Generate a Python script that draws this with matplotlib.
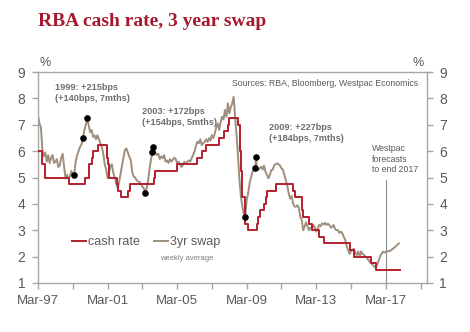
import pandas as pd
import matplotlib.pyplot as plt
import matplotlib.dates as mdates

# RBA cash rate changes (step series)
cash_dates = ["1997-03-01", "1997-05-23", "1997-07-30", "1998-12-02", "1999-11-03",
              "2000-02-02", "2000-04-05", "2000-05-03", "2000-08-02", "2001-02-07",
              "2001-03-07", "2001-04-04", "2001-09-05", "2001-10-03", "2001-12-05",
              "2002-05-08", "2002-06-05", "2003-11-05", "2003-12-03", "2005-03-02",
              "2006-05-03", "2006-08-02", "2006-11-08", "2007-08-08", "2007-11-07",
              "2008-02-06", "2008-03-05", "2008-09-03", "2008-10-08", "2008-11-05",
              "2008-12-03", "2009-02-04", "2009-04-08", "2009-10-07", "2009-11-04",
              "2009-12-02", "2010-03-03", "2010-04-07", "2010-05-05", "2010-11-03",
              "2011-11-02", "2011-12-07", "2012-05-02", "2012-06-06", "2012-10-03",
              "2012-12-05", "2013-05-08", "2013-08-07", "2015-02-04", "2015-05-06",
              "2016-05-04", "2016-08-03", "2017-12-31"]
cash_rate = [6.0, 5.5, 5.0, 4.75, 5.0,
             5.5, 5.75, 6.0, 6.25, 5.75,
             5.5, 5.0, 4.75, 4.5, 4.25,
             4.5, 4.75, 5.0, 5.25, 5.5,
             5.75, 6.0, 6.25, 6.5, 6.75,
             7.0, 7.25, 7.0, 6.0, 5.25,
             4.25, 3.25, 3.0, 3.25, 3.5,
             3.75, 4.0, 4.25, 4.5, 4.75,
             4.5, 4.25, 3.75, 3.5, 3.25,
             3.0, 2.75, 2.5, 2.25, 2.0,
             1.75, 1.5, 1.5]

# 3yr swap (roughly monthly)
swap_dates = [
    "1997-03", "1997-04", "1997-05", "1997-06", "1997-07", "1997-08", "1997-09", "1997-10", "1997-11", "1997-12",
    "1998-01", "1998-02", "1998-03", "1998-04", "1998-05", "1998-06", "1998-07", "1998-08", "1998-09", "1998-10", "1998-11", "1998-12",
    "1999-01", "1999-02", "1999-03", "1999-04", "1999-05", "1999-06", "1999-07", "1999-08", "1999-09", "1999-10", "1999-11", "1999-12",
    "2000-01", "2000-02", "2000-03", "2000-04", "2000-05", "2000-06", "2000-07", "2000-08", "2000-09", "2000-10", "2000-11", "2000-12",
    "2001-01", "2001-02", "2001-03", "2001-04", "2001-05", "2001-06", "2001-07", "2001-08", "2001-09", "2001-10", "2001-11", "2001-12",
    "2002-01", "2002-02", "2002-03", "2002-04", "2002-05", "2002-06", "2002-07", "2002-08", "2002-09", "2002-10", "2002-11", "2002-12",
    "2003-01", "2003-02", "2003-03", "2003-04", "2003-05", "2003-06", "2003-07", "2003-08", "2003-09", "2003-10", "2003-10-20", "2003-12",
    "2004-01", "2004-02", "2004-03", "2004-04", "2004-05", "2004-06", "2004-07", "2004-08", "2004-09", "2004-10", "2004-11", "2004-12",
    "2005-01", "2005-02", "2005-03", "2005-04", "2005-05", "2005-06", "2005-07", "2005-08", "2005-09", "2005-10", "2005-11", "2005-12",
    "2006-01", "2006-02", "2006-03", "2006-04", "2006-05", "2006-06", "2006-07", "2006-08", "2006-09", "2006-10", "2006-11", "2006-12",
    "2007-01", "2007-02", "2007-03", "2007-04", "2007-05", "2007-06", "2007-07", "2007-08", "2007-09", "2007-10", "2007-11", "2007-12",
    "2008-01", "2008-02", "2008-03", "2008-04", "2008-05", "2008-06", "2008-07", "2008-08", "2008-09", "2008-10", "2008-11", "2008-12",
    "2009-01", "2009-02", "2009-03", "2009-04", "2009-05", "2009-06", "2009-07", "2009-09", "2009-09-10", "2009-10", "2009-11", "2009-12",
    "2010-01", "2010-02", "2010-03", "2010-04", "2010-05", "2010-06", "2010-07", "2010-08", "2010-09", "2010-10", "2010-11", "2010-12",
    "2011-01", "2011-02", "2011-03", "2011-04", "2011-05", "2011-06", "2011-07", "2011-08", "2011-09", "2011-10", "2011-11", "2011-12",
    "2012-01", "2012-02", "2012-03", "2012-04", "2012-05", "2012-06", "2012-07", "2012-08", "2012-09", "2012-10", "2012-11", "2012-12",
    "2013-01", "2013-02", "2013-03", "2013-04", "2013-05", "2013-06", "2013-07", "2013-08", "2013-09", "2013-10", "2013-11", "2013-12",
    "2014-01", "2014-02", "2014-03", "2014-04", "2014-05", "2014-06", "2014-07", "2014-08", "2014-09", "2014-10", "2014-11", "2014-12",
    "2015-01", "2015-02", "2015-03", "2015-04", "2015-05", "2015-06", "2015-07", "2015-08", "2015-09", "2015-10", "2015-11", "2015-12",
    "2016-01", "2016-02", "2016-03", "2016-04", "2016-05", "2016-06", "2016-07", "2016-08", "2016-09", "2016-10", "2016-11", "2016-12",
    "2017-01", "2017-02", "2017-03", "2017-06", "2017-09", "2017-12"]
swap_rate = [
    7.35, 7.05, 6.9, 6.05, 5.8, 5.95, 5.6, 5.85, 5.55, 5.75,
    5.85, 5.55, 5.6, 5.7, 5.4, 5.45, 5.75, 5.9, 5.4, 4.97, 5.1, 4.95,
    5.04, 5.25, 5.05, 5.1, 5.6, 5.85, 6.0, 6.16, 6.25, 6.5, 6.8, 7.0,
    7.26, 6.95, 6.72, 6.8, 6.54, 6.6, 6.45, 6.6, 6.45, 6.29, 6.15, 5.9,
    5.5, 5.3, 4.97, 5.2, 5.41, 5.5, 5.16, 5.0, 4.75, 4.6, 4.85, 5.16,
    5.5, 5.79, 6.05, 6.1, 5.95, 5.79, 5.66, 5.2, 5.04, 5.0, 4.9, 4.85,
    4.84, 4.75, 4.65, 4.6, 4.4, 4.6, 4.9, 5.35, 5.7, 5.98, 6.14, 5.95,
    5.85, 5.9, 5.7, 5.8, 5.73, 5.85, 5.6, 5.65, 5.55, 5.7, 5.6, 5.67,
    5.75, 5.7, 5.54, 5.6, 5.5, 5.4, 5.47, 5.6, 5.5, 5.6, 5.65, 5.6,
    5.73, 5.85, 5.98, 6.2, 6.36, 6.3, 6.45, 6.23, 6.3, 6.36, 6.45, 6.35,
    6.49, 6.4, 6.61, 6.5, 6.67, 6.9, 7.05, 6.8, 7.1, 7.3, 7.2, 7.56,
    7.3, 7.81, 7.43, 7.66, 7.81, 8.06, 7.3, 6.61, 5.79, 4.9, 4.27, 3.89,
    3.6, 3.51, 4.15, 4.4, 4.78, 5.0, 5.22, 5.37, 5.79, 5.4, 5.28, 5.35,
    5.41, 5.3, 5.45, 5.22, 5.1, 4.97, 5.1, 5.28, 5.3, 5.47, 5.5, 5.54,
    5.5, 5.45, 5.35, 5.3, 5.1, 4.9, 4.7, 4.4, 4.2, 4.3, 4.02, 3.9,
    3.89, 3.95, 3.85, 3.5, 3.39, 3.0, 3.15, 3.3, 3.13, 3.0, 3.1, 3.07,
    3.2, 3.1, 2.95, 3.05, 3.2, 3.15, 3.26, 3.22, 3.28, 3.2, 3.25, 3.2,
    3.1, 3.13, 3.2, 3.05, 3.0, 3.0, 2.9, 2.95, 2.88, 2.75, 2.63, 2.4,
    2.25, 2.1, 2.2, 2.25, 2.3, 2.15, 2.06, 2.2, 2.0, 2.2, 2.1, 2.06,
    2.0, 1.95, 1.87, 1.8, 1.75, 1.68, 1.62, 1.58, 1.7, 1.85, 2.0, 2.1,
    2.19, 2.15, 2.19, 2.22, 2.35, 2.5]

# episode markers (black dots)
dot_dates = ["1999-04", "1999-10", "2000-01", "2003-05", "2003-10", "2003-10-20",
             "2009-02", "2009-09", "2009-09-10"]
dot_values = [5.1, 6.5, 7.26, 4.4, 5.98, 6.14, 3.51, 5.37, 5.79]

# x-axis ticks
major_ticks = ["1997-03-01", "2001-03-01", "2005-03-01", "2009-03-01", "2013-03-01", "2017-03-01"]
minor_ticks = ["1999-03-01", "2003-03-01", "2007-03-01", "2011-03-01", "2015-03-01", "2019-03-01"]

cash_x = pd.to_datetime(cash_dates)
swap_x = pd.to_datetime(swap_dates, format="mixed")
dot_x = pd.to_datetime(dot_dates, format="mixed")

RED = "#B31F2E"
SWAP = "#A08E7C"
GREY = "#595959"
SPINE = "#A6A6A6"

plt.rcParams["font.family"] = ["Liberation Sans", "DejaVu Sans"]

fig = plt.figure(figsize=(4.7, 3.32), dpi=100)
ax = fig.add_axes([38 / 470, 1 - 283 / 332, (427 - 38) / 470, (283 - 72) / 332])

ax.step(cash_x, cash_rate, where="post", color=RED, lw=1.4, label="cash rate", zorder=3)
ax.plot(swap_x, swap_rate, color=SWAP, lw=1.4, label="3yr swap", zorder=2)
ax.scatter(dot_x, dot_values, s=14, color="black", zorder=4)

# forecast marker
ax.plot([pd.Timestamp("2017-03-01")] * 2, [1, 4.9], color="#8C8C8C", lw=0.8, zorder=1)

ax.set_xlim(pd.Timestamp("1997-03-01"), pd.Timestamp("2019-07-15"))
ax.set_ylim(1, 9)
ax.set_yticks(range(1, 10))

ax.set_xticks(pd.to_datetime(major_ticks))
ax.set_xticks(pd.to_datetime(minor_ticks), minor=True)
ax.xaxis.set_major_formatter(mdates.DateFormatter("%b-%y"))

for s in ax.spines.values():
    s.set_color(SPINE)
    s.set_linewidth(1.0)

ax.tick_params(axis="both", which="both", colors=SPINE, labelcolor=GREY, length=4, width=1.0)
ax.tick_params(axis="x", labelsize=9.5, pad=5)
ax.tick_params(axis="y", labelsize=10, left=True, right=True, labelleft=True, labelright=True, pad=5)

# title and unit labels
fig.text(38 / 470, 1 - 22 / 332, "RBA cash rate, 3 year swap", family="Liberation Serif",
         fontweight="bold", fontsize=14, color="#A6192E", va="center", ha="left")
fig.text(45 / 470, 1 - 63 / 332, "%", fontsize=9, color=GREY, ha="center", va="center")
fig.text(418 / 470, 1 - 63 / 332, "%", fontsize=9, color=GREY, ha="center", va="center")

# annotations
ann = dict(fontsize=6.6, fontweight="bold", color="#6E6E6E", ha="left", va="center", linespacing=1.2)
fig.text(55 / 470, 1 - 93 / 332, "1999: +215bps\n(+140bps, 7mths)", **ann)
fig.text(142 / 470, 1 - 117 / 332, "2003: +172bps\n(+154bps, 5mths)", **ann)
fig.text(269 / 470, 1 - 133 / 332, "2009: +227bps\n(+184bps, 7mths)", **ann)
fig.text(418 / 470, 1 - 83 / 332, "Sources: RBA, Bloomberg, Westpac Economics",
         fontsize=6.3, color=GREY, ha="right", va="center")
fig.text(372 / 470, 1 - 159 / 332, "Westpac\nforecasts\nto end 2017",
         fontsize=6.3, color=GREY, ha="left", va="center", linespacing=1.2)

leg = ax.legend(loc="center left", bbox_to_anchor=(72 / 470, 1 - 242 / 332),
                bbox_transform=fig.transFigure, ncol=2, frameon=False, fontsize=9,
                handlelength=1.1, handletextpad=0.2, columnspacing=1.1,
                borderpad=0, borderaxespad=0)
for t in leg.get_texts():
    t.set_color(GREY)
fig.text(187 / 470, 1 - 259 / 332, "weekly average", fontsize=5.5, color="#7F7F7F",
         ha="center", va="center")

fig.savefig("out.png", dpi=100)
